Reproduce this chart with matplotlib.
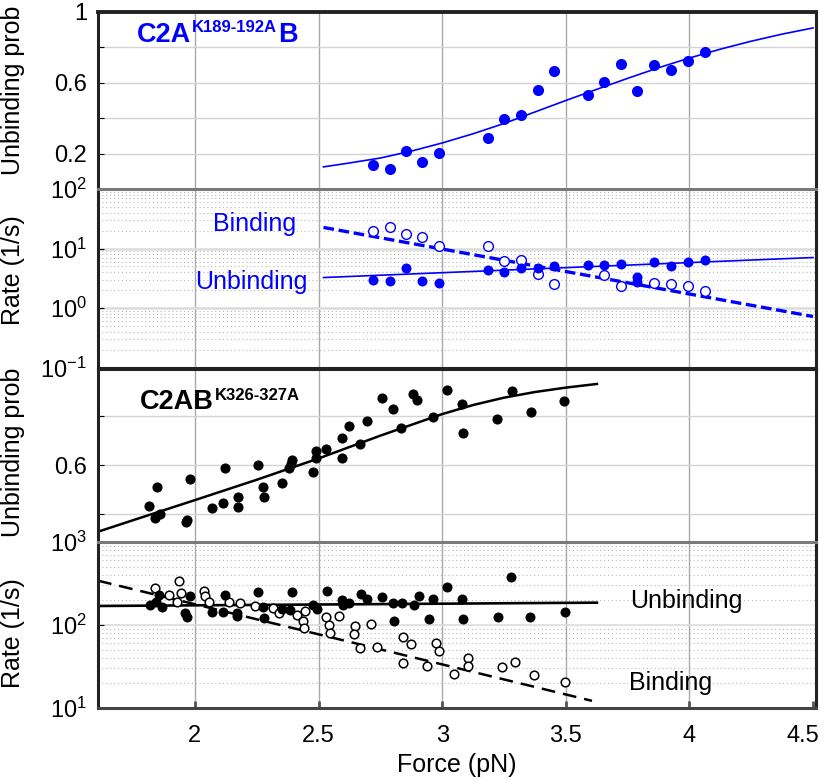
import matplotlib
matplotlib.use("Agg")
import matplotlib.pyplot as plt
from matplotlib.ticker import LogLocator, NullFormatter, FixedLocator
from matplotlib.transforms import ScaledTranslation

plt.rcParams['font.family'] = ['Liberation Sans', 'DejaVu Sans']
plt.rcParams['mathtext.fontset'] = 'custom'
plt.rcParams['mathtext.rm'] = 'Liberation Sans'
plt.rcParams['mathtext.it'] = 'Liberation Sans:italic'
plt.rcParams['mathtext.bf'] = 'Liberation Sans:bold'

# ---------------- data ----------------
# Panel 1: C2A(K189-192A)B unbinding probability
p1_force = [2.721, 2.789, 2.854, 2.919, 2.988, 3.186, 3.251, 3.320, 3.389, 3.453,
            3.591, 3.656, 3.725, 3.789, 3.858, 3.927, 3.996, 4.065]
p1_prob = [0.136, 0.113, 0.215, 0.153, 0.203, 0.288, 0.395, 0.418, 0.559, 0.667,
           0.531, 0.605, 0.706, 0.554, 0.701, 0.672, 0.723, 0.774]
p1_fit_force = [2.52, 2.625, 2.75, 2.875, 3.0, 3.125, 3.25, 3.375, 3.5, 3.625, 3.75,
                3.875, 4.0, 4.125, 4.25, 4.375, 4.5]
p1_fit_prob = [0.125, 0.147, 0.175, 0.214, 0.26, 0.312, 0.37, 0.435, 0.50, 0.563, 0.625,
               0.685, 0.74, 0.79, 0.835, 0.875, 0.91]

# Panel 2: rates
p2_unb_force = [2.721, 2.789, 2.854, 2.919, 2.988, 3.186, 3.251, 3.320, 3.389, 3.453,
                3.591, 3.656, 3.725, 3.789, 3.789, 3.858, 3.927, 3.996, 4.065]
p2_unb_rate = [3.0, 2.81, 4.79, 2.81, 2.67, 4.43, 3.98, 4.65, 4.65, 5.03,
               5.28, 5.37, 5.50, 3.37, 2.74, 5.94, 5.17, 5.94, 6.35]
p2_bind_force = [2.721, 2.789, 2.854, 2.919, 2.988, 3.186, 3.251, 3.320, 3.389, 3.453,
                 3.656, 3.725, 3.858, 3.927, 3.996, 4.065]
p2_bind_rate = [19.8, 22.6, 17.4, 15.7, 11.1, 11.1, 6.28, 6.43, 3.73, 2.53,
                3.55, 2.38, 2.63, 2.50, 2.31, 1.91]
p2_unb_fit_force = [2.52, 4.5]
p2_unb_fit_rate = [3.25, 7.05]
p2_bind_fit_force = [2.52, 4.5]
p2_bind_fit_rate = [22.6, 0.72]

# Panel 3: C2AB(K326-327A) unbinding probability
p3_force = [1.814, 1.845, 1.838, 1.858, 1.964, 1.966, 1.980, 2.069, 2.115, 2.123,
            2.174, 2.174, 2.254, 2.277, 2.281, 2.353, 2.382, 2.391, 2.387, 2.478,
            2.490, 2.490, 2.532, 2.594, 2.596, 2.623, 2.669, 2.698, 2.756, 2.803,
            2.835, 2.884, 2.900, 2.961, 3.019, 3.080, 3.084, 3.221, 3.281, 3.358, 3.491]
p3_prob = [0.434, 0.510, 0.385, 0.400, 0.366, 0.375, 0.542, 0.423, 0.445, 0.587,
           0.471, 0.430, 0.600, 0.511, 0.471, 0.528, 0.587, 0.620, 0.604, 0.573,
           0.658, 0.630, 0.664, 0.710, 0.630, 0.759, 0.686, 0.780, 0.872, 0.830,
           0.750, 0.890, 0.865, 0.797, 0.907, 0.850, 0.731, 0.788, 0.903, 0.818, 0.862]
p3_fit_force = [1.608, 1.75, 2.0, 2.25, 2.5, 2.75, 3.0, 3.125, 3.25, 3.375, 3.5, 3.626]
p3_fit_prob = [0.328, 0.375, 0.457, 0.54, 0.627, 0.72, 0.808, 0.845, 0.875, 0.898, 0.916, 0.931]

# Panel 4: rates
p4_unb_force = [1.818, 1.842, 1.855, 1.865, 1.960, 1.966, 1.980, 2.068, 2.115, 2.121,
                2.169, 2.171, 2.254, 2.274, 2.279, 2.353, 2.385, 2.391, 2.479, 2.493,
                2.533, 2.594, 2.598, 2.625, 2.671, 2.698, 2.756, 2.803, 2.807, 2.837,
                2.887, 2.907, 2.945, 2.962, 3.018, 3.080, 3.084, 3.224, 3.279, 3.356, 3.495]
p4_unb_rate = [174, 191, 230, 166, 138, 126, 224, 145, 145, 230,
               138, 127, 252, 166, 122, 156, 152, 252, 174, 155,
               259, 200, 174, 182, 236, 204, 216, 182, 113, 186,
               174, 224, 118, 204, 285, 204, 117, 126, 382, 124, 142]
p4_bind_force = [1.838, 1.896, 1.926, 1.936, 1.942, 2.036, 2.040, 2.057, 2.139, 2.182,
                 2.243, 2.315, 2.341, 2.412, 2.445, 2.438, 2.441, 2.530, 2.544, 2.547,
                 2.583, 2.648, 2.644, 2.668, 2.713, 2.738, 2.843, 2.873, 2.843, 2.938,
                 2.976, 2.989, 3.046, 3.106, 3.106, 3.242, 3.296, 3.370, 3.498]
p4_bind_rate = [277, 230, 191, 342, 245, 259, 224, 189, 191, 182,
                169, 159, 141, 132, 149, 112, 92.7, 126, 100, 79.4,
                128, 97.2, 77.3, 53.3, 103, 53.9, 72.3, 58.5, 34.6, 32.4,
                60.2, 48.7, 25.7, 40.4, 32.1, 30.9, 35.5, 25.0, 20.7]
p4_unb_fit_force = [1.608, 3.626]
p4_unb_fit_rate = [169.5, 185.9]
p4_bind_fit_force = [1.608, 3.606]
p4_bind_fit_rate = [342, 12.2]

x_ticks = [2, 2.5, 3, 3.5, 4, 4.5]
x_tick_labels = ['2', '2.5', '3', '3.5', '4', '4.5']

# ---------------- figure ----------------
W, H = 825, 781
fig = plt.figure(figsize=(W / 100, H / 100), dpi=100)

def axes_px(top, bottom, left=98, right=816):
    return fig.add_axes([left / W, 1 - bottom / H, (right - left) / W, (bottom - top) / H])

ax1 = axes_px(12, 189)
ax2 = axes_px(189, 367.5)
ax3 = axes_px(369, 542)
ax4 = axes_px(542, 708)

BLUE = '#0000ff'
TFS = 17
XLIM = (1.608, 4.512)

for ax in (ax1, ax2, ax3, ax4):
    ax.set_xlim(*XLIM)
    ax.set_xticks(x_ticks)
    ax.tick_params(axis='both', direction='in', length=4, labelsize=TFS, pad=8)
    ax.tick_params(axis='x', labelbottom=False, length=0)
    ax.set_axisbelow(True)
    for x in x_ticks[:-1]:
        ax.axvline(x, color='#a9a9a9', lw=1.0, zorder=0)
    for s in ax.spines.values():
        s.set_linewidth(2.2)
        s.set_color('#222222')

# ---- panel 1
ax1.set_ylim(0, 1)
ax1.set_yticks([0.2, 0.4, 0.6, 0.8, 1.0])
ax1.set_yticklabels(['0.2', '', '0.6', '', '1'])
ax1.yaxis.grid(True, color='#d4d4d4', lw=1.0)
ax1.plot(p1_fit_force, p1_fit_prob, color=BLUE, lw=1.2)
ax1.plot(p1_force, p1_prob, 'o', color=BLUE, ms=8, mew=0)
ax1.spines['bottom'].set_visible(False)
ax1.spines['top'].set_linewidth(2.8)

# ---- panel 2
ax2.set_yscale('log')
ax2.set_ylim(0.1, 100)
ax2.yaxis.set_major_locator(FixedLocator([0.1, 1, 10, 100]))
ax2.set_yticklabels([r'$10^{-1}$', r'$10^{0}$', r'$10^{1}$', r'$10^{2}$'])
ax2.yaxis.set_minor_locator(LogLocator(base=10, subs=range(2, 10), numticks=20))
ax2.yaxis.set_minor_formatter(NullFormatter())
ax2.tick_params(axis='y', which='minor', length=0)
ax2.yaxis.grid(True, which='major', color='#dcdcdc', lw=1.8)
ax2.yaxis.grid(True, which='minor', color='#b8b8b8', lw=0.8, ls=(0, (1, 2.5)))
ax2.plot(p2_bind_fit_force, p2_bind_fit_rate, color=BLUE, lw=2.4, dashes=(3.2, 1.4))
ax2.plot(p2_unb_fit_force, p2_unb_fit_rate, color=BLUE, lw=1.2)
ax2.plot(p2_bind_force, p2_bind_rate, 'o', mfc='white', mec=BLUE, ms=7, mew=1.0)
ax2.plot(p2_unb_force, p2_unb_rate, 'o', color=BLUE, ms=7.2, mew=0)
ax2.spines['top'].set_color('#7a7a7a')
ax2.text(2.24, 10 ** (2 - (224 - 189) / 59.3), 'Binding', color=BLUE, fontsize=18,
         ha='center', va='center')
ax2.text(2.23, 10 ** (2 - (282 - 189) / 59.3), 'Unbinding', color=BLUE, fontsize=18,
         ha='center', va='center')

# ---- panel 3
ax3.set_ylim(0.286, 0.992)
ax3.set_yticks([0.4, 0.6, 0.8])
ax3.set_yticklabels(['', '0.6', ''])
ax3.yaxis.grid(True, color='#d4d4d4', lw=1.0)
ax3.plot(p3_fit_force, p3_fit_prob, color='black', lw=1.8)
ax3.plot(p3_force, p3_prob, 'o', color='black', ms=7.3, mew=0)
ax3.spines['bottom'].set_color('#c8c8c8')
ax3.spines['bottom'].set_linewidth(1.2)

# ---- panel 4
ax4.set_yscale('log')
ax4.set_ylim(10, 1000)
ax4.yaxis.set_major_locator(FixedLocator([10, 100, 1000]))
ax4.set_yticklabels([r'$10^{1}$', r'$10^{2}$', r'$10^{3}$'])
ax4.yaxis.set_minor_locator(LogLocator(base=10, subs=range(2, 10), numticks=20))
ax4.yaxis.set_minor_formatter(NullFormatter())
ax4.tick_params(axis='y', which='minor', length=0)
ax4.yaxis.grid(True, which='major', color='#dcdcdc', lw=1.2)
ax4.yaxis.grid(True, which='minor', color='#b8b8b8', lw=0.8, ls=(0, (1, 2.5)))
ax4.plot(p4_bind_fit_force, p4_bind_fit_rate, color='black', lw=1.8, dashes=(5.5, 3.2))
ax4.plot(p4_unb_fit_force, p4_unb_fit_rate, color='black', lw=1.9)
ax4.plot(p4_bind_force, p4_bind_rate, 'o', mfc='white', mec='black', ms=6.2, mew=1.1)
ax4.plot(p4_unb_force, p4_unb_rate, 'o', color='black', ms=7.2, mew=0)
ax4.spines['top'].set_color('#7a7a7a')
ax4.spines['bottom'].set_color('#444444')
ax4.tick_params(axis='x', labelbottom=True, length=5, width=2, pad=12, color='#555555')
ax4.set_xticklabels(x_tick_labels)
last = ax4.get_xticklabels()[-1]
last.set_transform(last.get_transform() + ScaledTranslation(-0.10, 0, fig.dpi_scale_trans))
ax4.text(3.76, 10 ** (3 - (600.7 - 542) / 83), 'Unbinding', color='black', fontsize=18,
         ha='left', va='center')
ax4.text(3.755, 10 ** (3 - (683 - 542) / 83), 'Binding', color='black', fontsize=18,
         ha='left', va='center')

# ---- axis labels
fig.text(457 / W, 1 - 765 / H, 'Force (pN)', fontsize=18, ha='center', va='center')
for yc, lab in [(90, 'Unbinding prob'), (270, 'Rate (1/s)'), (452, 'Unbinding prob'),
                (633, 'Rate (1/s)')]:
    fig.text(13 / W, 1 - yc / H, lab, fontsize=18, rotation=90, ha='center', va='center')

# ---- rich titles
renderer = fig.canvas.get_renderer()

def rich(x_px, base_px, pieces, color):
    x = x_px
    for txt, size, rise in pieces:
        t = fig.text(x / W, 1 - (base_px - rise) / H, txt, fontsize=size,
                     fontweight='bold', color=color, ha='left', va='baseline')
        bb = t.get_window_extent(renderer)
        x = bb.x1 + 1

rich(137, 42, [('C2A', 19.5, 0), ('K189-192A', 12, 9.5), ('B', 19.5, 0)], BLUE)
rich(140, 409, [('C2AB', 19.5, 0), ('K326-327A', 12, 9.5)], 'black')

fig.savefig('out.png', dpi=100)
